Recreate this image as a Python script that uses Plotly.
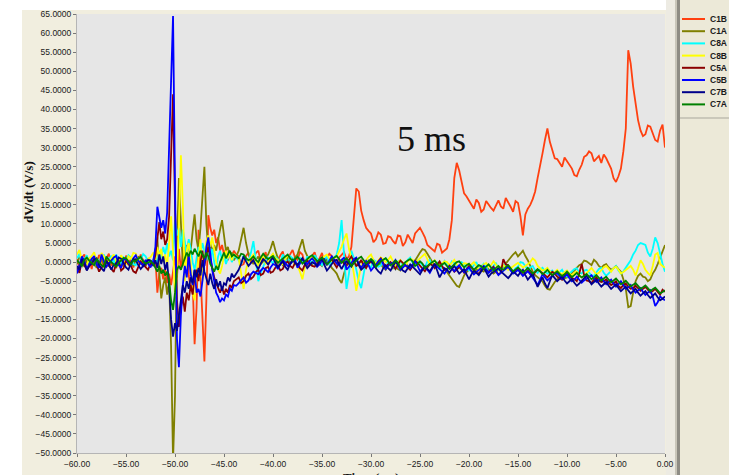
import numpy as np
import plotly.graph_objects as go

# Time base (ms): 0.25 ms sampling outside the spike, 0.2 ms across it
t_pre = np.round(np.arange(-60.0, -52.49, 0.25), 2)     # 31 samples
t_spk = np.round(np.arange(-52.2, -43.99, 0.2), 2)      # 42 samples
t_post = np.round(np.arange(-43.75, 0.001, 0.25), 2)    # 176 samples
time_ms = np.concatenate([t_pre, t_spk, t_post])

names = ["C1B", "C1A", "C8A", "C8B", "C5A", "C5B", "C7B", "C7A"]
colors = ["#FF4010", "#808000", "#00FFFF", "#FFFF00", "#8B0000", "#0000FF", "#00008B", "#008000"]

# ---- dV/dt (V/s) per channel -------------------------------------------------
c1b_pre = [0.8, -1.5, 1.2, 2.0, -0.4, 0.9, -1.8, 1.4,
           -0.6, 1.9, 0.3, -1.2, 1.0, 2.2, -0.9, 0.5,
           -1.6, 1.3, 0.1, -1.0, 1.7, -0.3, 0.8, -1.4,
           1.1, -0.2, 2.0, 0.4, -1.1, 0.7, -0.5]
c1b_spk = [-0.5, 1.2, -8.0, -3.0, -1.5, -4.5,
           -2.0, -5.5, -3.0, -6.0, -2.5, 1.5,
           -4.0, 3.5, -2.0, 2.0, -1.0, 4.5,
           -3.5, -7.0, -5.0, -21.5, -12.0, 8.5,
           -3.0, -14.0, -26.0, -10.0, 12.3, 9.0,
           7.0, 8.5, 5.0, 6.5, 3.0, 4.5,
           2.0, 3.5, 0.5, 2.5, 1.0, 3.0]
c1b_post = [2.0, 1.5, -0.8, -0.5, 1.6, 2.5, -0.2, 0.8,
            2.4, 3.0, 0.2, 1.2, 2.6, -0.8, 0.9, 2.2,
            -0.4, 0.5, 1.8, 2.8, -0.2, 1.0, 2.4, 3.2,
            1.2, 0.6, 2.6, 2.0, -0.5, -1.5, 0.8, 1.8,
            2.6, 0.2, 1.0, 2.4, -0.3, 0.9, 2.2, 1.6,
            0.4, -0.6, 1.2, 1.9, 2.6, 0.8, 1.5, 4.0,
            12.0, 19.3, 18.5, 13.5, 11.0, 9.0, 8.2, 7.5,
            5.2, 6.0, 7.8, 7.2, 4.8, 5.0, 6.8, 6.5,
            5.5, 4.8, 7.0, 6.8, 4.2, 5.2, 7.2, 6.0,
            5.0, 7.5, 8.2, 9.0, 7.8, 6.5, 4.5, 4.0,
            3.5, 2.8, 4.8, 4.5, 2.5, 3.0, 3.6, 6.0,
            11.0, 22.0, 26.0, 24.0, 21.0, 18.0, 17.2, 16.0,
            15.2, 14.0, 16.4, 15.5, 13.2, 13.8, 16.0, 15.0,
            14.2, 13.5, 15.0, 16.2, 14.6, 14.0, 16.8, 15.8,
            14.5, 13.2, 16.0, 15.5, 12.0, 7.0, 12.5, 14.0,
            15.0, 16.5, 18.5, 22.0, 25.0, 28.5, 32.0, 35.0,
            31.5, 29.0, 27.2, 27.0, 25.8, 25.0, 27.4, 26.5,
            25.6, 24.5, 22.8, 22.5, 24.2, 25.5, 27.6, 28.0,
            29.0, 28.5, 26.4, 27.0, 27.8, 26.0, 28.2, 27.2,
            26.0, 24.5, 22.0, 21.0, 22.5, 24.5, 29.0, 35.0,
            55.5, 52.0, 46.0, 41.0, 37.2, 34.5, 33.0, 33.5,
            35.8, 35.5, 33.5, 32.0, 31.6, 34.5, 36.0, 30.0]

c1a_pre = [-0.5, 1.4, 0.2, -1.2, 0.6, -0.9, 1.1, 0.3,
           -1.5, 0.4, 1.0, -0.7, 0.8, -1.1, 0.2, 1.3,
           -0.4, 0.9, -1.3, 0.5, 1.2, -0.6, 0.1, -1.0,
           0.7, 1.5, -0.3, 0.4, -0.9, 1.0, 0.2]
c1a_spk = [0.5, 3.0, 6.5, -3.0, -9.5, -6.0,
           -4.0, -8.5, -5.0, -22.0, -52.0, -35.0,
           5.0, 22.0, 10.0, -1.0, 4.0, 1.0,
           5.5, 3.0, 8.0, 12.5, 6.0, 3.0,
           9.0, 18.0, 25.0, 10.0, 3.0, 5.0,
           2.5, 4.5, 3.0, 6.0, 8.5, 11.0,
           7.0, 3.0, 4.0, 1.5, 2.5, 0.5]
c1a_post = [1.5, 3.0, 6.0, 9.0, 5.0, 2.0, 0.8, -0.5,
            0.6, 1.5, -0.5, 0.2, 1.2, 2.0, 3.5, 5.5,
            3.0, 1.0, 0.0, -0.8, 0.5, 1.2, -0.4, 0.4,
            1.0, 2.0, 4.0, 6.0, 3.0, 1.5, 0.2, -0.5,
            0.6, 0.8, -0.4, -1.0, 0.2, 0.5, -0.6, -1.5,
            -2.2, -3.0, -4.5, -5.5, -3.0, -1.0, -0.2, 0.5,
            0.2, -0.8, -0.2, 0.3, -0.6, -1.2, 0.4, 0.0,
            -0.9, -1.5, -0.2, -0.6, -1.4, -2.0, -0.8, -0.5,
            -1.6, -1.0, -1.8, -2.2, -1.0, -0.4, -0.9, -1.5,
            -0.6, 0.5, 1.6, 2.5, 3.4, 3.2, 2.2, 1.0,
            0.2, -1.0, -0.3, -0.5, -1.4, -2.0, -2.6, -3.5,
            -4.4, -5.0, -6.2, -6.5, -5.0, -3.5, -2.6, -2.0,
            -2.2, -2.8, -2.0, -1.5, -2.2, -2.5, -1.4, -1.8,
            -2.4, -3.0, -2.6, -2.0, -1.5, -1.2, -0.4, 0.5,
            1.4, 2.0, 2.6, 1.5, 2.2, 3.0, 1.6, 0.5,
            -1.0, -2.5, -3.4, -4.0, -4.4, -5.0, -6.2, -7.0,
            -7.2, -6.0, -5.2, -4.5, -3.8, -3.5, -4.2, -4.0,
            -3.4, -3.0, -2.2, -1.5, -0.8, -0.5, 0.4, 0.2,
            -0.2, -0.8, 0.6, 0.0, -1.0, -1.5, -0.8, -0.5,
            -1.4, -2.0, -1.6, -1.0, -1.8, -2.5, -4.5, -7.0,
            -11.8, -11.5, -8.0, -5.0, -3.6, -3.0, -3.8, -4.0,
            -5.0, -4.5, -3.0, -2.0, -0.5, 1.0, 3.0, 4.5]

c8a_pre = [1.0, 2.2, -0.5, 0.8, 1.8, -0.2, 0.2, 1.5,
           -0.9, 0.6, 1.4, 2.0, -0.2, 0.9, 1.7, -0.4,
           2.0, 0.5, -0.6, 1.2, 0.5, 1.8, 1.2, -0.5,
           -0.8, 0.9, 0.6, 2.1, 1.5, 0.2, -0.3]
c8a_spk = [0.5, 1.5, -1.0, 3.0, 1.0, 4.0,
           2.0, 5.0, 1.5, 3.0, 0.5, 11.0,
           7.0, 9.0, 4.0, 8.5, 5.5, 2.0,
           6.0, 3.5, 0.0, -2.0, 1.0, 4.0,
           2.0, 5.0, 3.0, 0.5, 2.5, 1.0,
           3.5, 0.0, -2.0, 1.5, 3.0, 0.5,
           2.0, -0.5, 1.0, 2.5, 0.0, 1.5]
c8a_post = [1.2, 0.5, -0.6, 1.8, 0.9, 0.0, 2.5, 5.5,
            0.5, -5.0, -2.8, -1.0, 0.4, 1.2, 0.6, -0.5,
            1.4, 0.8, -0.2, 2.0, 0.8, -0.2, 1.6, 1.0,
            0.0, -1.2, 1.2, 0.5, -0.4, 1.5, 0.6, -0.4,
            1.8, 0.9, 0.2, -0.8, 0.6, 1.6, -0.6, 0.0,
            1.2, 2.0, 5.0, 11.0, 2.0, -7.0, -3.0, 3.0,
            1.0, -2.0, -5.0, -6.8, -3.0, 0.5, -0.8, -1.5,
            0.6, 0.2, -1.2, -0.9, 0.4, 1.0, -0.8, -0.3,
            -1.2, -1.8, 0.2, 0.4, -1.0, -0.6, 0.6, 1.2,
            -0.2, -1.0, 0.4, 0.0, -0.8, -1.4, 0.2, 0.6,
            -1.2, -0.8, 0.0, -2.0, -1.0, 0.3, -0.6, -1.2,
            0.2, -0.2, -1.0, -1.6, 0.0, -0.5, -1.4, -2.2,
            -1.6, -0.9, 0.0, -1.8, -1.2, -0.4, -1.4, -2.5,
            -1.8, -1.0, -0.2, -2.0, -2.4, -0.8, -0.6, -1.5,
            -2.0, -2.6, -1.6, -1.2, 0.0, -0.2, -1.0, -2.0,
            -1.4, -1.0, -2.2, -2.8, -2.0, -1.5, -2.4, -3.0,
            -2.6, -2.2, -3.0, -3.5, -2.6, -2.0, -3.2, -3.8,
            -3.0, -2.5, -1.8, -1.6, -2.8, -3.0, -2.2, -2.0,
            -2.8, -3.5, -3.6, -2.8, -1.8, -1.5, -2.8, -3.6,
            -3.0, -2.4, -1.6, -1.0, -2.2, -3.0, -2.4, -1.5,
            -0.5, 0.5, 2.0, 3.0, 4.5, 5.0, 4.8, 4.5,
            2.5, 1.5, 3.5, 6.5, 5.0, 2.0, -0.5, -2.5]

c8b_pre = [2.0, 3.2, 0.5, -0.2, -0.8, 1.0, 1.6, 2.6,
           0.3, -0.4, 2.4, 1.5, -0.5, 0.4, 1.0, 2.0,
           0.2, -0.6, 1.8, 0.8, -0.6, 1.5, 0.9, 2.4,
           2.2, 0.6, 0.4, -0.2, -0.4, 0.8, 1.3]
c8b_spk = [2.5, 0.5, 4.0, 1.5, 3.5, 0.0,
           2.0, -1.0, 5.0, 12.0, 3.0, -9.0,
           -3.0, 10.0, 28.0, 15.0, -5.0, 3.0,
           5.0, 0.0, -8.0, -10.0, -4.0, 2.0,
           6.0, -5.0, 1.0, 5.5, 7.0, 4.0,
           6.5, 3.0, 0.0, -2.0, -3.0, -1.0,
           1.5, 3.0, 1.0, 2.5, 0.5, 2.0]
c8b_post = [1.6, 1.0, -3.0, -7.0, -2.0, 0.5, 1.2, 2.0,
            0.4, -1.0, 0.8, 1.5, -0.4, 0.0, 1.4, 2.2,
            1.0, 0.6, -0.5, -0.5, 0.8, 1.8, 1.0, 0.2,
            -0.6, -1.0, -2.5, -4.5, -1.2, 0.5, 1.0, 1.6,
            0.4, -0.4, 0.6, 1.0, 1.5, 2.0, 0.9, 0.3,
            1.0, 1.5, 2.8, 4.0, 6.0, 7.5, 3.5, 1.0,
            -3.0, -7.5, -4.0, -1.0, 0.0, 0.5, 1.4, 2.0,
            0.6, -0.5, 0.4, 1.2, 0.8, 0.0, 0.6, 1.5,
            0.2, -0.8, 0.0, 0.6, -0.4, -1.0, 0.2, 0.8,
            0.6, -0.2, 0.4, 1.0, 1.6, 2.2, 0.8, -0.6,
            -0.2, 0.5, -0.6, -1.2, -0.4, 0.2, 0.0, -0.8,
            -0.2, 0.6, -0.6, -1.5, -0.8, -0.3, -0.4, -1.0,
            -0.6, 0.0, -1.0, -1.8, -1.4, -0.6, -0.2, -1.2,
            -0.8, 0.2, -0.6, -1.5, -1.2, -0.8, -1.4, -2.0,
            -1.6, -1.0, -0.6, -0.2, -0.8, -1.4, -1.0, -0.5,
            0.0, 1.0, 0.4, -1.0, -1.6, -2.2, -2.0, -1.5,
            -2.4, -3.0, -2.6, -2.0, -2.8, -3.2, -2.6, -2.2,
            -3.0, -3.5, -2.8, -2.5, -3.4, -4.0, -3.6, -2.8,
            -2.0, -1.5, -2.4, -3.2, -2.8, -2.0, -1.4, -1.0,
            -1.8, -2.5, -1.6, -1.2, -2.0, -3.0, -2.6, -2.0,
            -1.6, -1.0, -2.0, -3.5, -1.6, 0.5, -0.5, -2.0,
            -2.8, -3.5, -1.0, 2.0, 2.4, -0.5, -1.0, -1.5]

c5a_pre = [-1.5, -2.8, 0.5, -0.6, -2.0, -1.0, -0.3, 1.0,
           -0.4, -2.5, -1.4, -0.8, 0.6, -0.9, -1.8, -2.6,
           -0.2, 0.4, -2.2, -1.6, 0.4, -0.5, -1.0, -2.4,
           -2.8, -1.2, 0.2, -0.6, -1.2, -2.0, -0.4]
c5a_spk = [-0.5, 2.0, 7.0, 10.5, 6.0, 8.0,
           4.5, 6.0, 12.0, 30.0, 44.0, 15.0,
           -10.0, -17.0, -12.0, -9.0, -13.0, -8.0,
           -10.0, -6.0, -8.5, -4.0, -2.0, -5.0,
           0.0, 3.0, -1.0, 2.0, 4.0, 1.0,
           -2.0, -4.0, -5.5, -7.0, -8.0, -6.5,
           -8.5, -7.0, -8.0, -6.0, -6.8, -5.0]
c5a_post = [-4.6, -4.0, -5.5, -5.0, -3.6, -3.0, -4.4, -3.8,
            -2.6, -2.0, -3.4, -3.0, -1.6, -1.2, -2.8, -2.5,
            -1.4, -0.8, -2.2, -1.8, -0.4, 0.2, -1.0, -1.5,
            -0.2, -0.5, -1.6, -2.2, -0.6, 0.4, -0.4, -1.0,
            -1.2, -0.2, 0.6, 1.2, 0.0, -0.6, 0.2, 0.8,
            -0.4, -1.4, -0.2, 0.5, -0.4, -0.8, 0.6, 1.5,
            0.2, -1.0, -0.6, 0.6, -0.8, -1.6, -0.4, 0.2,
            -0.4, -0.9, 0.2, 1.0, -0.2, -1.2, -0.6, 0.0,
            -0.8, -1.8, -0.6, 0.4, -0.2, -0.8, -1.4, -2.0,
            -1.0, 0.3, -0.2, -1.0, -1.6, -2.4, -1.4, -0.5,
            -0.8, -1.6, -0.6, 0.2, -1.0, -2.0, -1.8, -0.9,
            -1.6, -2.5, -2.0, -1.2, -2.0, -2.8, -1.8, -1.0,
            -1.4, -2.2, -2.8, -3.0, -2.2, -1.5, -2.0, -2.6,
            -1.8, -1.2, -2.4, -3.2, -2.8, 0.8, -0.6, -0.8,
            -1.8, -2.8, -2.2, -1.6, -2.6, -3.4, -2.8, -2.2,
            -2.8, -3.6, -2.6, -2.0, -2.4, -2.8, -3.4, -4.0,
            -3.2, -2.5, -3.0, -3.8, -4.2, -4.6, -3.6, -3.0,
            -3.6, -4.2, -4.4, -5.0, -3.0, -0.5, -3.4, -4.8,
            -5.0, -5.5, -4.6, -4.0, -4.8, -5.2, -5.0, -4.5,
            -5.4, -6.0, -5.6, -5.0, -6.2, -6.8, -6.0, -5.6,
            -6.4, -7.0, -6.8, -6.2, -6.8, -7.5, -7.0, -6.5,
            -7.2, -8.0, -7.6, -7.0, -7.8, -8.5, -7.2, -7.8]

c5b_pre = [-3.0, -0.6, 1.5, 0.4, -1.8, -0.5, 0.8, 1.6,
           -0.6, -1.5, 2.0, 0.2, -1.2, -0.4, 0.4, 1.2,
           1.6, -0.8, -1.5, 0.6, 0.9, -0.2, -0.8, 1.0,
           1.8, 0.4, -0.2, -1.0, 0.6, -0.4, -1.4]
c5b_spk = [0.5, 4.0, 14.5, 12.0, 9.0, 11.0,
           7.5, 13.0, 30.0, 52.0, 64.5, 20.0,
           -20.0, -27.5, -14.0, -6.0, -1.0, -4.0,
           2.0, -3.0, -6.0, -2.0, -8.0, -7.0,
           -9.0, -5.0, 0.0, 4.0, 6.5, 2.0,
           -2.0, -5.0, -8.0, -9.0, -10.5, -9.5,
           -10.0, -8.5, -9.0, -7.0, -7.5, -6.0]
c5b_post = [-6.2, -5.5, -4.6, -4.0, -5.4, -4.8, -3.2, -2.5,
            -2.8, -3.2, -2.2, -1.5, -2.0, -2.6, -1.4, -0.5,
            -0.8, -1.8, -0.4, 0.6, -0.2, -1.0, -0.6, 0.2,
            0.6, -1.5, -0.4, 0.8, 0.2, -0.6, 0.4, 1.0,
            0.2, -1.2, -0.6, 0.4, 0.8, -0.8, 0.4, 1.5,
            0.6, -0.4, -0.8, 0.6, 1.2, -2.0, -1.2, 0.0,
            0.8, 1.2, -0.6, -1.4, -0.4, 0.3, -0.8, -2.2,
            -1.4, -0.6, 0.2, 0.8, -0.6, -1.8, -1.0, -0.4,
            -0.2, 0.6, -0.8, -2.0, -1.4, -0.8, -1.2, -1.6,
            -0.6, 0.2, -1.0, -2.4, -1.8, -1.0, -2.0, -2.8,
            -1.6, -0.6, -1.2, -1.8, -2.4, -3.0, -2.0, -1.2,
            -1.6, -2.4, -1.4, -0.8, -1.8, -2.6, -2.0, -1.4,
            -2.4, -3.2, -2.6, -2.0, -1.4, -1.0, -2.0, -2.8,
            -2.2, -1.6, -2.4, -3.4, -2.8, -2.2, -1.6, -1.2,
            -2.2, -3.0, -2.6, -2.0, -2.8, -3.6, -3.0, -2.4,
            -3.2, -4.0, -5.0, -6.0, -4.4, -3.2, -4.0, -4.8,
            -4.2, -3.6, -3.0, -2.8, -3.6, -4.4, -3.8, -3.2,
            -4.2, -5.0, -4.6, -3.8, -4.6, -5.4, -4.8, -4.2,
            -3.8, -3.4, -4.4, -5.2, -4.6, -4.0, -5.0, -5.8,
            -5.2, -4.6, -5.6, -6.4, -5.8, -5.0, -6.0, -7.0,
            -6.6, -6.0, -7.2, -8.0, -7.4, -6.8, -7.8, -8.6,
            -8.0, -7.4, -9.0, -11.5, -10.5, -9.0, -9.6, -10.0]

c7b_pre = [-1.0, -2.0, 0.8, -0.2, -2.2, -1.0, -0.4, 0.6,
           1.0, -0.8, -1.6, -2.4, 0.2, -0.5, -2.0, -0.6,
           -0.6, 1.2, 0.9, -0.4, -1.4, -2.0, -0.2, 0.8,
           0.6, -0.8, -1.8, -1.0, -0.5, 0.6, 0.4]
c7b_spk = [-1.0, 0.5, -1.5, 2.0, -0.5, 1.5,
           -2.0, 0.0, -6.0, -15.0, -19.5, -16.0,
           -18.0, -14.0, -9.0, -6.0, -8.0, -5.0,
           -7.0, -4.0, -5.5, -2.0, -4.0, -1.5,
           -3.5, 0.5, -2.5, -4.5, -6.0, -3.0,
           -5.5, -7.0, -4.5, -6.5, -5.0, -7.5,
           -5.5, -6.0, -4.0, -5.0, -3.0, -4.0]
c7b_post = [-3.0, -2.0, -0.4, 1.5, 0.2, -1.0, -0.2, 0.5,
            -0.8, -1.8, -0.4, 0.8, 0.2, -0.6, 0.4, 1.2,
            -0.2, -1.4, -0.6, 0.2, -1.2, -2.0, -0.4, 0.6,
            -0.2, -0.8, 0.2, 1.0, -0.4, -1.6, -0.8, 0.0,
            -0.4, -1.0, 0.2, 0.8, -0.8, -2.2, -1.4, -0.4,
            0.4, 0.6, -0.8, -1.8, -0.6, 0.2, -0.4, -1.2,
            0.0, 1.0, -0.8, -2.0, -1.4, -0.6, 0.2, 0.4,
            -0.8, -1.6, -2.4, -3.0, -1.6, -0.8, -1.6, -2.2,
            -1.0, 0.0, -0.6, -1.4, -2.2, -2.6, -1.4, -0.6,
            -1.2, -1.8, -2.6, -3.2, -2.0, -1.2, -1.8, -2.4,
            -1.4, -0.4, -2.2, -4.0, -2.8, -1.6, -2.0, -2.8,
            -1.8, -1.0, -2.0, -3.0, -2.4, -1.8, -3.2, -4.5,
            -3.2, -2.2, -2.8, -3.4, -2.4, -1.4, -2.6, -3.8,
            -3.0, -2.6, -2.0, -1.6, -2.4, -3.0, -3.8, -4.2,
            -3.4, -2.4, -3.0, -3.6, -2.6, -2.0, -3.4, -4.6,
            -3.8, -3.0, -4.8, -6.5, -5.2, -4.0, -5.6, -6.8,
            -5.0, -3.4, -4.2, -5.0, -4.4, -3.8, -4.8, -5.6,
            -5.0, -4.4, -5.4, -6.2, -5.6, -4.8, -4.2, -3.6,
            -4.8, -5.8, -5.2, -4.6, -5.6, -6.4, -5.8, -5.2,
            -6.2, -7.0, -6.4, -5.8, -6.8, -7.6, -7.0, -6.4,
            -7.4, -8.2, -7.6, -7.0, -8.0, -8.8, -8.2, -7.6,
            -8.6, -9.4, -8.8, -8.2, -9.2, -10.0, -9.6, -9.0]

c7a_pre = [0.5, -0.4, -1.0, 0.6, 1.2, 0.4, -0.2, -0.8,
           0.8, 0.0, -0.8, -1.2, 1.5, 0.6, 0.0, -0.6,
           -1.2, -0.2, 0.6, 1.1, 1.0, 0.2, -0.6, 0.4,
           0.3, 0.9, 1.4, 0.2, -0.4, -0.1, 0.2]
c7a_spk = [-0.5, -1.5, -2.5, -1.0, -3.0, -2.0,
           -3.5, -2.5, -5.0, -10.0, -12.5, -8.0,
           -2.0, -1.0, -2.0, -0.5, 1.0, 2.5,
           1.5, 3.0, 2.0, 3.5, 2.5, 1.5,
           3.0, 2.0, 1.0, 2.5, 1.5, -0.5,
           -1.5, -2.5, -1.0, -2.0, 0.0, 1.5,
           2.5, 1.0, 2.0, 3.0, 1.5, 2.0]
c7a_post = [1.4, 1.0, 2.2, 2.0, 1.0, 0.5, 0.8, 1.5,
            0.6, 0.0, 1.2, 2.2, 1.4, 0.8, 1.2, 1.6,
            0.6, -0.2, 0.4, 1.0, 1.6, 2.0, 1.0, 0.4,
            0.8, 1.4, 0.6, -0.4, 0.2, 0.9, 1.4, 1.8,
            1.0, 0.2, 0.6, 1.2, 0.4, -0.6, 0.0, 0.8,
            1.2, 1.6, 0.8, -0.2, 0.4, 1.0, 0.2, -1.0,
            -0.2, 0.5, 1.0, 1.4, 0.6, -0.4, 0.2, 0.8,
            0.2, -1.2, -0.6, 0.2, 0.6, 1.0, 0.2, -0.8,
            -0.4, 0.4, -0.2, -1.4, -0.8, 0.0, 0.4, 0.8,
            0.2, -1.0, -0.6, 0.2, -0.4, -1.6, -1.0, -0.4,
            0.0, 0.4, -0.4, -1.2, -0.6, -0.2, -1.0, -1.8,
            -1.2, -0.6, 0.0, 0.2, -0.6, -1.4, -0.8, -0.4,
            -1.2, -2.0, -1.4, -0.8, -1.1, -1.8, -1.2, -0.6,
            -1.4, -2.2, -1.5, -1.0, -1.7, -2.0, -1.3, -0.8,
            -1.6, -2.4, -1.9, -1.4, -2.0, -2.7, -2.2, -1.5,
            -2.2, -3.0, -2.5, -1.8, -2.4, -3.2, -2.7, -2.0,
            -2.8, -3.4, -2.9, -2.4, -3.1, -3.6, -3.2, -2.5,
            -3.2, -3.9, -3.4, -2.8, -3.5, -4.0, -3.6, -3.1,
            -3.8, -4.5, -4.0, -3.4, -4.1, -4.8, -4.3, -3.8,
            -4.6, -5.3, -4.8, -4.3, -5.0, -5.8, -5.4, -4.9,
            -5.6, -6.4, -5.9, -5.5, -6.2, -7.0, -6.6, -6.1,
            -6.8, -7.6, -7.1, -6.7, -7.4, -8.2, -7.8, -7.4]

series = [
    c1b_pre + c1b_spk + c1b_post,
    c1a_pre + c1a_spk + c1a_post,
    c8a_pre + c8a_spk + c8a_post,
    c8b_pre + c8b_spk + c8b_post,
    c5a_pre + c5a_spk + c5a_post,
    c5b_pre + c5b_spk + c5b_post,
    c7b_pre + c7b_spk + c7b_post,
    c7a_pre + c7a_spk + c7a_post,
]
for nm, s in zip(names, series):
    assert len(s) == len(time_ms), (nm, len(s), len(time_ms))

x_ticks = [-60, -55, -50, -45, -40, -35, -30, -25, -20, -15, -10, -5, 0]
y_ticks = [65, 60, 55, 50, 45, 40, 35, 30, 25, 20, 15, 10, 5, 0,
           -5, -10, -15, -20, -25, -30, -35, -40, -45, -50]

W, H = 729, 475
ML, MR, MT, MB = 77, 64, 14, 22
PW, PH = W - ML - MR, H - MT - MB


def px(x):
    return (x - ML) / PW


def py(y):
    return (H - MB - y) / PH


fig = go.Figure()
for nm, col, s in zip(names, colors, series):
    fig.add_trace(go.Scatter(x=time_ms, y=s, mode="lines", name=nm,
                             line=dict(color=col, width=1.8), showlegend=False))

tick_font = dict(family="Liberation Sans, Arial, sans-serif", size=8.5, color="#1a1a1a")
axis_common = dict(ticks="outside", ticklen=3, tickcolor="#777", showgrid=False,
                   zeroline=False, showline=True, linecolor="#b5b5b5",
                   tickfont=tick_font, automargin=False)
fig.update_xaxes(range=[-60, 0], tickvals=x_ticks, tickformat=".2f", **axis_common)
fig.update_yaxes(range=[-50, 65], tickvals=y_ticks, tickformat=".4f", **axis_common)

shapes = []
# white outer margin (left strip and top strip)
shapes.append(dict(type="rect", xref="paper", yref="paper", x0=px(0), x1=px(22),
                   y0=py(H), y1=py(0), fillcolor="white", line_width=0, layer="below"))
shapes.append(dict(type="rect", xref="paper", yref="paper", x0=px(0), x1=px(670),
                   y0=py(10), y1=py(0), fillcolor="white", line_width=0, layer="below"))
# right side panel holding the legend
shapes.append(dict(type="rect", xref="paper", yref="paper", x0=px(666), x1=px(675),
                   y0=py(H), y1=py(0), fillcolor="#EDEBE3", line_width=0, layer="below"))
shapes.append(dict(type="rect", xref="paper", yref="paper", x0=px(675), x1=px(677),
                   y0=py(H), y1=py(0), fillcolor="#C9C6BA", line_width=0, layer="below"))
shapes.append(dict(type="rect", xref="paper", yref="paper", x0=px(677), x1=px(680),
                   y0=py(H), y1=py(0), fillcolor="#8E8C84", line_width=0, layer="below"))
shapes.append(dict(type="rect", xref="paper", yref="paper", x0=px(680), x1=px(W),
                   y0=py(H), y1=py(0), fillcolor="#ECE9D8", line_width=0, layer="below"))
shapes.append(dict(type="line", xref="paper", yref="paper", x0=px(680), x1=px(W),
                   y0=py(118), y1=py(118), line=dict(color="#A9A79C", width=1)))

annotations = []
leg_top, leg_step = 19, 12.2
for i, (nm, col) in enumerate(zip(names, colors)):
    yy = leg_top + i * leg_step
    shapes.append(dict(type="line", xref="paper", yref="paper", x0=px(682), x1=px(705),
                       y0=py(yy), y1=py(yy), line=dict(color=col, width=2)))
    annotations.append(dict(text=f"<b>{nm}</b>", xref="paper", yref="paper",
                            x=px(708), y=py(yy), xanchor="left", yanchor="middle",
                            showarrow=False,
                            font=dict(family="Liberation Sans, Arial, sans-serif",
                                      size=8.5, color="#1a1a1a")))

annotations.append(dict(text="5 ms", xref="paper", yref="paper", x=px(432), y=py(139),
                        xanchor="center", yanchor="middle", showarrow=False,
                        font=dict(family="Liberation Serif, Times New Roman, serif",
                                  size=36, color="#111")))
annotations.append(dict(text="<b>dV/dt (V/s)</b>", xref="paper", yref="paper",
                        x=px(28), y=py(192), xanchor="center", yanchor="middle",
                        textangle=-90, showarrow=False,
                        font=dict(family="Liberation Serif, Times New Roman, serif",
                                  size=13, color="#111")))
annotations.append(dict(text="<b>Time (ms)</b>", xref="paper", yref="paper",
                        x=px(371), y=py(468), xanchor="center", yanchor="top",
                        showarrow=False,
                        font=dict(family="Liberation Serif, Times New Roman, serif",
                                  size=13, color="#111")))

fig.update_layout(width=W, height=H, margin=dict(l=ML, r=MR, t=MT, b=MB),
                  paper_bgcolor="#F1EEDF", plot_bgcolor="#E6E6E6",
                  shapes=shapes, annotations=annotations, showlegend=False)

fig.write_html("out.html")
